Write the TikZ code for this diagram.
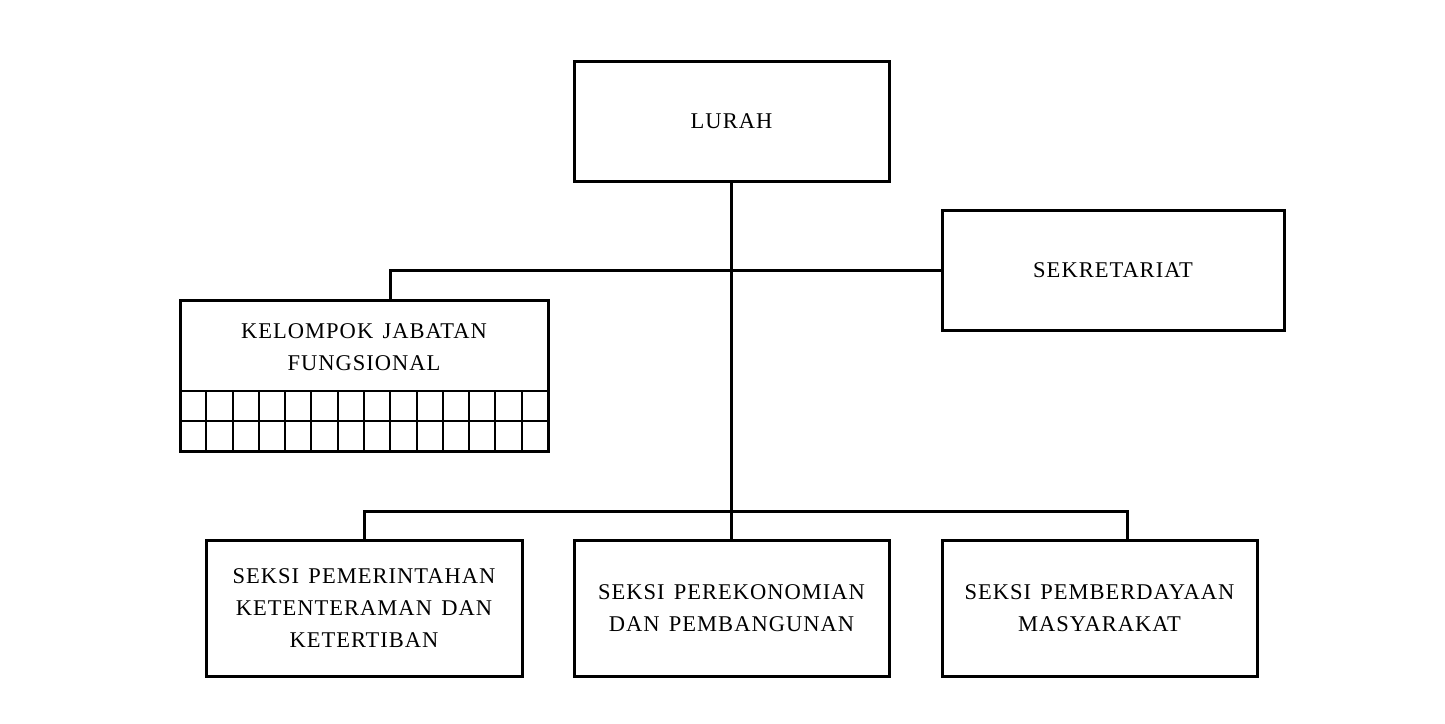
\documentclass[tikz,border=0pt]{standalone}
\usepackage{fontspec}
\setmainfont{Liberation Serif}[LetterSpace=4.5,WordSpace=1.4]
\begin{document}
\begin{tikzpicture}[x=1pt,y=-1pt,
  box/.style={draw=black,line width=3pt,rectangle,inner sep=0pt,align=center,font=\fontsize{22.5}{32}\selectfont},
  conn/.style={draw=black,line width=3pt},
  gridline/.style={draw=black,line width=2pt}]
\useasboundingbox[fill=white] (0,0) rectangle (1445,723);
\node[box,minimum width=315,minimum height=120] (lurah) at (731.5,121) {LURAH};
\node[box,minimum width=342,minimum height=120] (sek) at (1113,270) {SEKRETARIAT};
\node[box,minimum width=368,minimum height=151] (kjf) at (364,375.5) {};
\node[align=center,inner sep=0pt,font=\fontsize{22.5}{32}\selectfont] (kjftext) at (364,347) {KELOMPOK JABATAN\\FUNGSIONAL};
\node[box,minimum width=316,minimum height=136] (s1) at (364,608) {SEKSI PEMERINTAHAN\\KETENTERAMAN DAN\\KETERTIBAN};
\node[box,minimum width=315,minimum height=136] (s2) at (731.5,608) {SEKSI PEREKONOMIAN\\DAN PEMBANGUNAN};
\node[box,minimum width=315,minimum height=136] (s3) at (1099.5,608) {SEKSI PEMBERDAYAAN\\MASYARAKAT};
% grid in KJF
\draw[gridline] (180,391) -- (548,391);
\draw[gridline] (180,421) -- (548,421);
\foreach \k in {1,...,13} {
  \draw[gridline] ({180+\k*368/14},391) -- ({180+\k*368/14},451);
}
% connectors
\coordinate (kjftop) at (390,300);
\coordinate (s3top) at (1127,540);
\coordinate (bar) at (731.5,511);
\draw[conn] (lurah.south) -- (s2.north);
\draw[conn] (sek.west) -| (kjftop);
\draw[conn] (s1.north) |- (bar) -| (s3top);
\end{tikzpicture}
\end{document}
